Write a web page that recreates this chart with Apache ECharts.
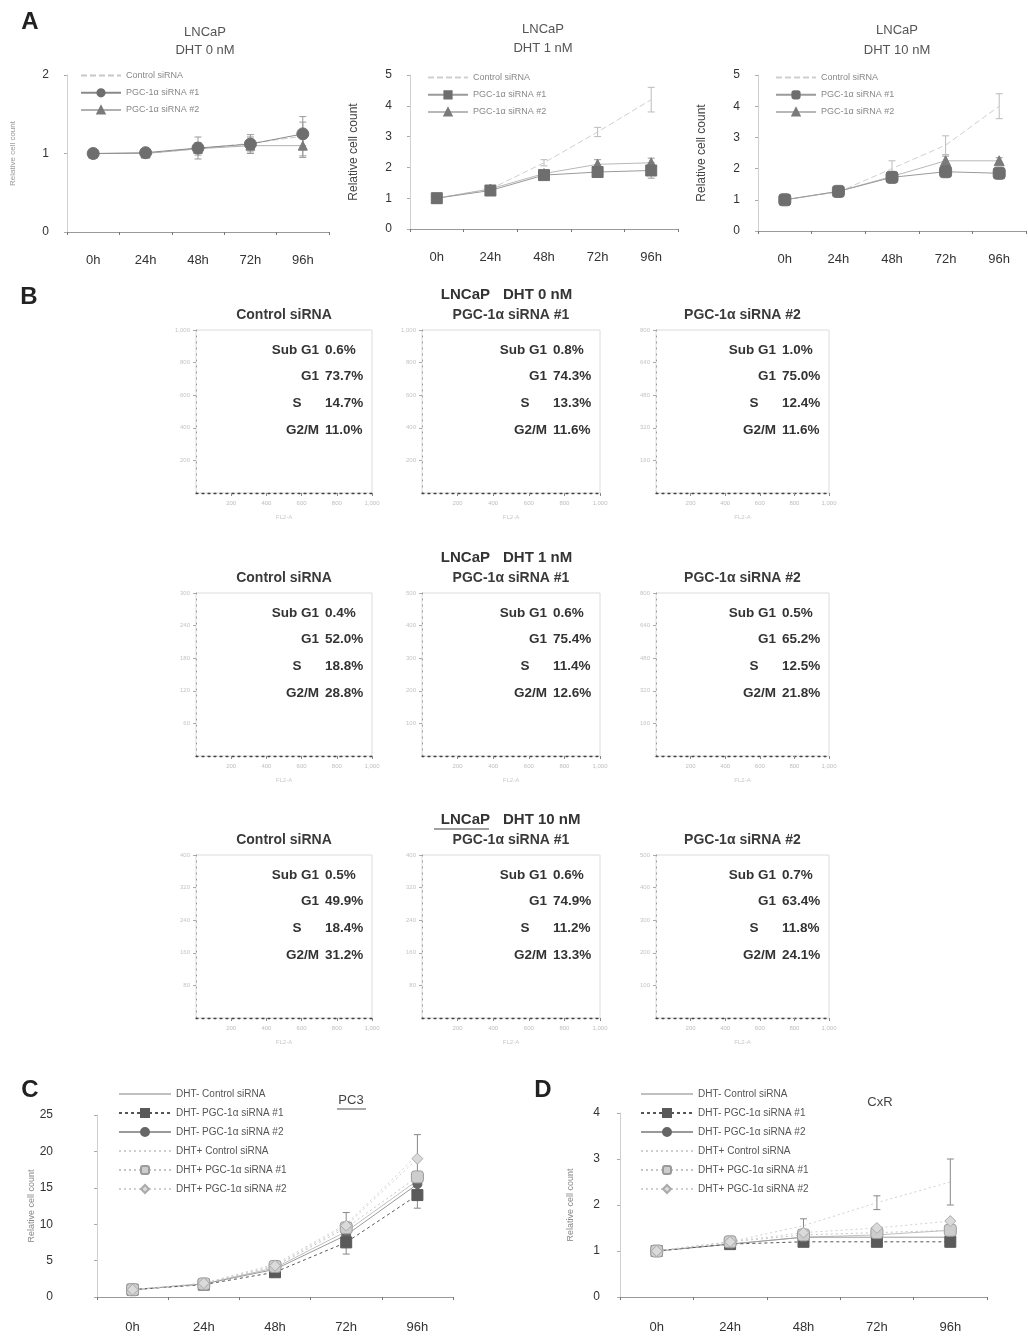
<!DOCTYPE html>
<html>
<head>
<meta charset="utf-8">
<script src="https://cdn.jsdelivr.net/npm/echarts@6/dist/echarts.min.js"></script>
<style>
  html, body { margin: 0; background: #fff; }
  #main { width: 1028px; height: 1336px; }
</style>
</head>
<body>
<div id="main"></div>
<script>
// time points
const times = ['0h', '24h', '48h', '72h', '96h'];

// A: LNCaP relative cell count
const aNames = ['Control siRNA', 'PGC-1α siRNA #1', 'PGC-1α siRNA #2'];
const a0Control = [1.0, 1.0, 1.06, 1.13, 1.22];
const a0Si1 = [1.0, 1.01, 1.07, 1.12, 1.25];
const a0Si2 = [1.0, 1.0, 1.06, 1.1, 1.1];
const a0ControlErr = [0, 0, 0.05, 0.08, 0.25];
const a0Si1Err = [0, 0, 0.14, 0.12, 0.15];
const a0Si2Err = [0, 0, 0.08, 0.08, 0.15];

const a1Control = [1.0, 1.3, 2.15, 3.15, 4.2];
const a1Si1 = [1.0, 1.25, 1.75, 1.85, 1.9];
const a1Si2 = [1.0, 1.3, 1.8, 2.1, 2.15];
const a1ControlErr = [0, 0, 0.1, 0.15, 0.4];
const a1Si1Err = [0, 0.05, 0.05, 0.1, 0.25];
const a1Si2Err = [0, 0.05, 0.05, 0.15, 0.15];

const a10Control = [1.0, 1.25, 2.0, 2.75, 4.0];
const a10Si1 = [1.0, 1.27, 1.72, 1.9, 1.85];
const a10Si2 = [1.0, 1.27, 1.75, 2.25, 2.25];
const a10ControlErr = [0, 0.05, 0.25, 0.3, 0.4];
const a10Si1Err = [0, 0.05, 0.05, 0.1, 0.1];
const a10Si2Err = [0, 0.05, 0.05, 0.15, 0.1];

// B: cell cycle distribution (%)
const bRowTitles = ['DHT 0 nM', 'DHT 1 nM', 'DHT 10 nM'];
const bColTitles = ['Control siRNA', 'PGC-1α siRNA #1', 'PGC-1α siRNA #2'];
const phases = ['Sub G1', 'G1', 'S', 'G2/M'];
const bDht0 = [[0.6, 73.7, 14.7, 11.0], [0.8, 74.3, 13.3, 11.6], [1.0, 75.0, 12.4, 11.6]];
const bDht1 = [[0.4, 52.0, 18.8, 28.8], [0.6, 75.4, 11.4, 12.6], [0.5, 65.2, 12.5, 21.8]];
const bDht10 = [[0.5, 49.9, 18.4, 31.2], [0.6, 74.9, 11.2, 13.3], [0.7, 63.4, 11.8, 24.1]];
const bYMax = [[1000, 1000, 800], [300, 500, 800], [400, 400, 500]];

// C / D: DHT -/+ with siRNA
const cdNames = ['DHT- Control siRNA', 'DHT- PGC-1α siRNA #1', 'DHT- PGC-1α siRNA #2',
  'DHT+ Control siRNA', 'DHT+ PGC-1α siRNA #1', 'DHT+ PGC-1α siRNA #2'];
const pc3MinusControl = [1.0, 1.8, 4.0, 9.0, 16.0];
const pc3MinusSi1 = [1.0, 1.7, 3.4, 7.5, 14.0];
const pc3MinusSi2 = [1.0, 1.8, 3.8, 8.5, 15.5];
const pc3PlusControl = [1.0, 1.9, 4.5, 10.0, 19.5];
const pc3PlusSi1 = [1.0, 1.8, 4.2, 9.5, 16.5];
const pc3PlusSi2 = [1.0, 1.9, 4.3, 9.8, 19.0];
const pc3PlusControlErr = [0, 0.1, 0.3, 1.6, 2.8];
const pc3MinusSi1Err = [0, 0.1, 0.3, 1.6, 1.8];

const cxrMinusControl = [1.0, 1.15, 1.3, 1.35, 1.45];
const cxrMinusSi1 = [1.0, 1.15, 1.2, 1.2, 1.2];
const cxrMinusSi2 = [1.0, 1.15, 1.3, 1.3, 1.3];
const cxrPlusControl = [1.0, 1.2, 1.55, 2.05, 2.5];
const cxrPlusSi1 = [1.0, 1.2, 1.35, 1.4, 1.45];
const cxrPlusSi2 = [1.0, 1.2, 1.4, 1.5, 1.65];
const cxrPlusControlErr = [0, 0.05, 0.15, 0.15, 0.5];

const FONT = 'Liberation Sans, Arial, sans-serif';

const option = {
  animation: false,
  textStyle: { fontFamily: FONT },
  grid: [],
  xAxis: [],
  yAxis: [],
  legend: [],
  series: [],
  graphic: [],
};

function errSeries(gi, vals, err, color) {
  return {
    type: 'custom',
    xAxisIndex: gi,
    yAxisIndex: gi,
    silent: true,
    z: 1,
    data: vals.map((v, i) => [i, v - err[i], v + err[i]]),
    encode: { x: 0, y: [1, 2] },
    renderItem(params, api) {
      if (api.value(2) - api.value(1) <= 0) return { type: 'group', children: [] };
      const lo = api.coord([api.value(0), api.value(1)]);
      const hi = api.coord([api.value(0), api.value(2)]);
      const w = 7;
      const st = { stroke: color, lineWidth: 1 };
      return {
        type: 'group',
        children: [
          { type: 'line', shape: { x1: hi[0], y1: hi[1], x2: lo[0], y2: lo[1] }, style: st },
          { type: 'line', shape: { x1: hi[0] - w / 2, y1: hi[1], x2: hi[0] + w / 2, y2: hi[1] }, style: st },
          { type: 'line', shape: { x1: lo[0] - w / 2, y1: lo[1], x2: lo[0] + w / 2, y2: lo[1] }, style: st },
        ],
      };
    },
  };
}

function addLinePanel(p) {
  const gi = option.grid.length;
  option.grid.push({ left: p.left, top: p.top, width: p.width, height: p.height });
  option.xAxis.push({
    gridIndex: gi,
    type: 'category',
    data: times,
    boundaryGap: true,
    axisLine: { lineStyle: { color: '#9a9a9a' } },
    axisTick: { show: true, length: 3, lineStyle: { color: '#777' } },
    axisLabel: { color: '#333', fontSize: 13, margin: p.xMargin },
  });
  option.yAxis.push({
    gridIndex: gi,
    type: 'value',
    min: 0,
    max: p.max,
    interval: p.interval,
    name: 'Relative cell count',
    nameLocation: 'middle',
    nameGap: p.nameGap,
    nameTextStyle: { color: p.nameColor, fontSize: p.nameSize },
    axisLine: { show: true, lineStyle: { color: '#d0d0d0' } },
    axisTick: { show: true, length: 3, lineStyle: { color: '#aaa' } },
    splitLine: { show: false },
    axisLabel: { color: '#333', fontSize: 12, margin: p.yMargin },
  });
  option.legend.push({
    left: p.legendLeft,
    top: p.legendTop,
    orient: 'vertical',
    itemWidth: p.legendIconW,
    itemHeight: p.legendIconH,
    itemGap: p.legendGap,
    selectedMode: false,
    data: p.series.map((s) => p.id + '|' + s.name),
    formatter: (n) => n.split('|')[1],
    textStyle: { color: p.legendColor, fontSize: p.legendFont },
  });
  p.series.forEach((s) => {
    const hidden = s.symbol === 'none';
    option.series.push({
      type: 'line',
      name: p.id + '|' + s.name,
      xAxisIndex: gi,
      yAxisIndex: gi,
      data: s.values,
      symbol: hidden ? 'circle' : s.symbol,
      symbolSize: hidden ? 0.1 : s.size,
      z: s.z || 2,
      lineStyle: { color: s.line, width: 1, type: s.dash || 'solid' },
      itemStyle: { color: s.fill, borderColor: s.border || s.fill, borderWidth: 1, opacity: hidden ? 0 : 1 },
    });
    if (s.err) option.series.push(errSeries(gi, s.values, s.err, s.errColor || '#999'));
  });
}

// ---- Panel A ----
const aCommon = {
  interval: 1, xMargin: 22, yMargin: 18, nameGap: 50,
  legendIconW: 40, legendIconH: 9, legendGap: 8, legendFont: 9, legendColor: '#888',
};
addLinePanel(Object.assign({}, aCommon, {
  id: 'A1', left: 67, top: 75, width: 262, height: 157, max: 2,
  nameColor: '#999', nameSize: 8, legendLeft: 75, legendTop: 66,
  series: [
    { name: aNames[0], values: a0Control, symbol: 'none', size: 4, line: '#c8c8c8', dash: [6, 3], fill: '#aaa', err: a0ControlErr },
    { name: aNames[1], values: a0Si1, symbol: 'circle', size: 12, line: '#8a8a8a', fill: '#6e6e6e', err: a0Si1Err, z: 3 },
    { name: aNames[2], values: a0Si2, symbol: 'triangle', size: 9, line: '#b0b0b0', fill: '#7a7a7a', err: a0Si2Err },
  ],
}));
addLinePanel(Object.assign({}, aCommon, {
  id: 'A2', left: 410, top: 75, width: 268, height: 154, max: 5,
  nameColor: '#444', nameSize: 12, legendLeft: 422, legendTop: 68,
  series: [
    { name: aNames[0], values: a1Control, symbol: 'none', size: 4, line: '#cfcfcf', dash: [6, 3], fill: '#aaa', err: a1ControlErr, errColor: '#bbb' },
    { name: aNames[1], values: a1Si1, symbol: 'rect', size: 11, line: '#9a9a9a', fill: '#6e6e6e', err: a1Si1Err, z: 3 },
    { name: aNames[2], values: a1Si2, symbol: 'triangle', size: 10, line: '#b8b8b8', fill: '#7a7a7a', err: a1Si2Err },
  ],
}));
addLinePanel(Object.assign({}, aCommon, {
  id: 'A3', left: 758, top: 75, width: 268, height: 156, max: 5,
  nameColor: '#444', nameSize: 12, legendLeft: 770, legendTop: 68,
  series: [
    { name: aNames[0], values: a10Control, symbol: 'none', size: 4, line: '#cfcfcf', dash: [6, 3], fill: '#aaa', err: a10ControlErr, errColor: '#bbb' },
    { name: aNames[1], values: a10Si1, symbol: 'roundRect', size: 12, line: '#9a9a9a', fill: '#6e6e6e', err: a10Si1Err, z: 3 },
    { name: aNames[2], values: a10Si2, symbol: 'triangle', size: 10, line: '#b8b8b8', fill: '#7a7a7a', err: a10Si2Err },
  ],
}));

// ---- Panel C / D ----
function cdSeries(v, errs) {
  return [
    { name: cdNames[0], values: v[0], symbol: 'none', size: 4, line: '#c0c0c0', fill: '#bbb' },
    { name: cdNames[1], values: v[1], symbol: 'rect', size: 11, line: '#555', dash: [3, 3], fill: '#5a5a5a', err: errs[1], errColor: '#888', z: 3 },
    { name: cdNames[2], values: v[2], symbol: 'circle', size: 9, line: '#9a9a9a', fill: '#666' },
    { name: cdNames[3], values: v[3], symbol: 'none', size: 4, line: '#cfcfcf', dash: [2, 3], fill: '#ccc', err: errs[3], errColor: '#888' },
    { name: cdNames[4], values: v[4], symbol: 'roundRect', size: 12, line: '#c4c4c4', dash: [2, 3], fill: '#cdcdcd', border: '#9a9a9a', z: 4 },
    { name: cdNames[5], values: v[5], symbol: 'diamond', size: 11, line: '#d0d0d0', dash: [2, 3], fill: '#dadada', border: '#aaa', z: 4 },
  ];
}
const cdCommon = {
  xMargin: 24, legendIconW: 52, legendIconH: 10, legendGap: 9, legendFont: 10, legendColor: '#555',
  nameColor: '#888', nameSize: 9,
};
addLinePanel(Object.assign({}, cdCommon, {
  id: 'C', left: 97, top: 1115, width: 356, height: 182, max: 25, interval: 5,
  yMargin: 44, nameGap: 56, legendLeft: 113, legendTop: 1084,
  series: cdSeries([pc3MinusControl, pc3MinusSi1, pc3MinusSi2, pc3PlusControl, pc3PlusSi1, pc3PlusSi2],
    [null, pc3MinusSi1Err, null, pc3PlusControlErr, null, null]),
}));
addLinePanel(Object.assign({}, cdCommon, {
  id: 'D', left: 620, top: 1113, width: 367, height: 184, max: 4, interval: 1,
  yMargin: 20, nameGap: 45, legendLeft: 635, legendTop: 1084,
  series: cdSeries([cxrMinusControl, cxrMinusSi1, cxrMinusSi2, cxrPlusControl, cxrPlusSi1, cxrPlusSi2],
    [null, null, null, cxrPlusControlErr, null, null]),
}));

// ---- Panel B: flow cytometry boxes ----
const boxTops = [330, 593, 855];
const boxLefts = [196, 422, 656];
const boxWidths = [176, 178, 173];
const boxHeight = 163;
const bData = [bDht0, bDht1, bDht10];

bData.forEach((rowData, r) => {
  const top = boxTops[r];
  // row header
  option.graphic.push({
    type: 'text', x: 490, y: top - 35,
    style: { text: 'LNCaP', font: 'bold 15px ' + FONT, fill: '#333', textAlign: 'right', textVerticalAlign: 'middle' },
  });
  option.graphic.push({
    type: 'text', x: 503, y: top - 35,
    style: { text: bRowTitles[r], font: 'bold 15px ' + FONT, fill: '#333', textAlign: 'left', textVerticalAlign: 'middle' },
  });
  if (r === 2) {
    option.graphic.push({ type: 'line', shape: { x1: 434, y1: top - 26, x2: 489, y2: top - 26 }, style: { stroke: '#444', lineWidth: 1 } });
  }
  rowData.forEach((vals, c) => {
    const left = boxLefts[c];
    const w = boxWidths[c];
    const gi = option.grid.length;
    option.grid.push({ left: left, top: top, width: w, height: boxHeight, show: true, borderColor: '#dcdcdc', borderWidth: 1 });
    option.xAxis.push({
      gridIndex: gi, type: 'value', min: 0, max: 1000, interval: 200,
      name: 'FL2-A', nameLocation: 'middle', nameGap: 21, nameTextStyle: { fontSize: 6, color: '#c8c8c8' },
      axisLine: { lineStyle: { color: '#444', type: [2, 4], width: 1.3 } },
      axisTick: { length: 3, lineStyle: { color: '#888' } },
      splitLine: { show: false },
      axisLabel: { fontSize: 6, color: '#bdbdbd', margin: 7, showMinLabel: false },
    });
    option.yAxis.push({
      gridIndex: gi, type: 'value', min: 0, max: bYMax[r][c], interval: bYMax[r][c] / 5,
      axisLine: { show: true, lineStyle: { color: '#999', type: [1, 5] } },
      axisTick: { show: true, length: 3, lineStyle: { color: '#aaa' } },
      splitLine: { show: false },
      axisLabel: { fontSize: 6, color: '#c4c4c4', margin: 6, showMinLabel: false },
    });
    option.series.push({ type: 'line', xAxisIndex: gi, yAxisIndex: gi, data: [], silent: true });
    option.graphic.push({
      type: 'text', x: left + w / 2, y: top - 15,
      style: { text: bColTitles[c], font: 'bold 14px ' + FONT, fill: '#3a3a3a', textAlign: 'center', textVerticalAlign: 'middle' },
    });
    const valRight = left + w - 9;
    vals.forEach((v, k) => {
      const y = top + 20 + k * 26.7;
      const isS = phases[k] === 'S';
      option.graphic.push({
        type: 'text', x: isS ? valRight - 66 : valRight - 44, y: y,
        style: { text: phases[k], font: 'bold 13.5px ' + FONT, fill: '#333', textAlign: isS ? 'center' : 'right', textVerticalAlign: 'middle' },
      });
      option.graphic.push({
        type: 'text', x: valRight - 38, y: y,
        style: { text: v.toFixed(1) + '%', font: 'bold 13.5px ' + FONT, fill: '#333', textAlign: 'left', textVerticalAlign: 'middle' },
      });
    });
  });
});

// ---- panel titles and letters ----
function txt(x, y, s, font, fill, align) {
  option.graphic.push({ type: 'text', x: x, y: y, style: { text: s, font: font + ' ' + FONT, fill: fill, textAlign: align || 'center', textVerticalAlign: 'middle' } });
}
txt(205, 32, 'LNCaP', '13px', '#555');
txt(205, 50, 'DHT 0 nM', '13px', '#555');
txt(543, 29, 'LNCaP', '13px', '#555');
txt(543, 48, 'DHT 1 nM', '13px', '#555');
txt(897, 30, 'LNCaP', '13px', '#555');
txt(897, 50, 'DHT 10 nM', '13px', '#555');
txt(351, 1100, 'PC3', '13px', '#444');
option.graphic.push({ type: 'line', shape: { x1: 337, y1: 1109, x2: 366, y2: 1109 }, style: { stroke: '#555', lineWidth: 1 } });
txt(880, 1102, 'CxR', '13px', '#444');
txt(30, 22, 'A', 'bold 24px', '#222');
txt(29, 297, 'B', 'bold 24px', '#222');
txt(30, 1090, 'C', 'bold 24px', '#222');
txt(543, 1090, 'D', 'bold 24px', '#222');

const chart = echarts.init(document.getElementById('main'), null, { renderer: 'canvas' });
chart.setOption(option);
</script>
</body>
</html>
